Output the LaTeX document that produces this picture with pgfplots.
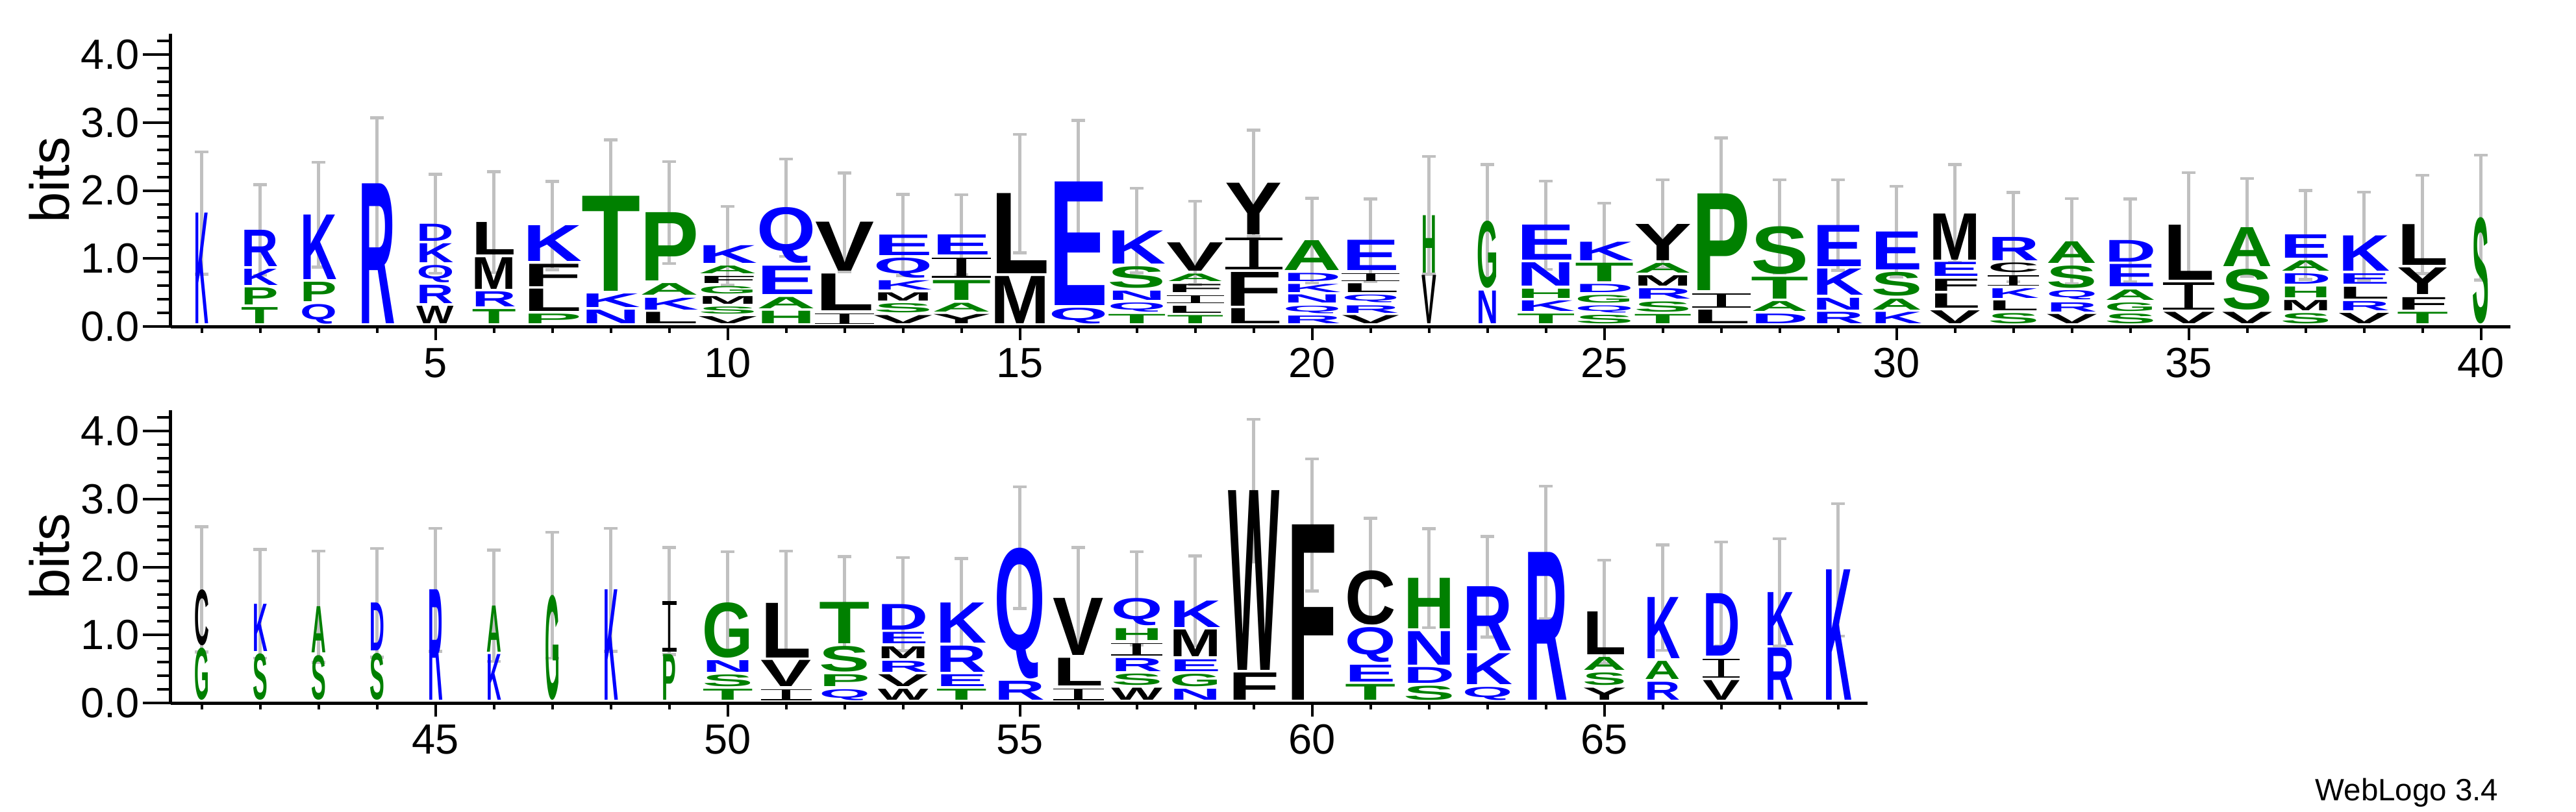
\documentclass[border=0pt]{standalone}
\usepackage{fontspec}
\setmainfont{Liberation Sans}
\usepackage{graphicx}
\usepackage{xcolor}
\usepackage{pgfplots}
\usepackage{pgfplotstable}
\pgfplotsset{compat=1.18}

\definecolor{wblue}{RGB}{0,0,255}
\definecolor{wgreen}{RGB}{0,128,0}
\definecolor{ebgray}{RGB}{192,192,192}
% hydrophobicity colour scheme
\colorlet{lcR}{wblue}\colorlet{lcK}{wblue}\colorlet{lcD}{wblue}
\colorlet{lcE}{wblue}\colorlet{lcN}{wblue}\colorlet{lcQ}{wblue}
\colorlet{lcS}{wgreen}\colorlet{lcG}{wgreen}\colorlet{lcH}{wgreen}
\colorlet{lcT}{wgreen}\colorlet{lcA}{wgreen}\colorlet{lcP}{wgreen}
\colorlet{lcY}{black}\colorlet{lcV}{black}\colorlet{lcM}{black}
\colorlet{lcC}{black}\colorlet{lcL}{black}\colorlet{lcF}{black}
\colorlet{lcI}{black}\colorlet{lcW}{black}

% serif I as in WebLogo
\newcommand\glyphI{\vbox{\hrule width 10pt height 0.8pt depth 0pt
  \hbox to 10pt{\hss\vrule width 1.6pt height 8.4pt depth 0pt\hss}%
  \hrule width 10pt height 0.8pt depth 0pt}}
\def\letI{I}
\newlength\glh \newlength\glw
% #1 letter, #2 box height (bits), #3 stack width (positions)
\newcommand\logoglyph[3]{%
  \begingroup
  \pgfmathsetlength\glh{max(0.02,#2-0.04)*20.94pt}%
  \pgfmathsetlength\glw{#3*19.8pt}%
  \edef\cur{#1}%
  \ifx\cur\letI \def\gly{\glyphI}\else\def\gly{\textbf{\cur}}\fi
  \textcolor{lc\cur}{\resizebox*{\glw}{\glh}{\gly}}%
  \endgroup}

% letters: x, bottom, top (bits), stack width (positions), letter
\pgfplotstableread[row sep=\\]{
x lo hi w l\\
1 0 1.668 .22 K\\
2 0 .278 .58 T\\ 2 .278 .569 .58 P\\ 2 .569 .847 .58 K\\ 2 .847 1.422 .58 R\\
3 0 .329 .57 Q\\ 3 .329 .655 .57 P\\ 3 .655 1.645 .57 K\\
4 0 2.099 .57 R\\
5 0 .297 .58 W\\ 5 .297 .607 .58 R\\ 5 .607 .901 .58 Q\\ 5 .901 1.220 .58 K\\ 5 1.220 1.511 .58 D\\
6 0 .249 .69 T\\ 6 .249 .511 .69 R\\ 6 .511 1.016 .69 M\\ 6 1.016 1.534 .69 L\\
7 0 .182 .92 P\\ 7 .182 .55 .92 L\\ 7 .55 .92 .92 F\\ 7 .92 1.486 .92 K\\
8 0 .24 .92 N\\ 8 .24 .479 .92 K\\ 8 .479 1.917 .92 T\\
9 0 .208 .92 L\\ 9 .208 .422 .92 K\\ 9 .422 .633 .92 A\\ 9 .633 1.677 .92 P\\
10 0 .144 .92 V\\ 10 .144 .288 .92 S\\ 10 .288 .441 .92 M\\ 10 .441 .591 .92 G\\ 10 .591 .735 .92 F\\ 10 .735 .888 .92 A\\ 10 .888 1.188 .92 K\\
11 0 .224 .92 H\\ 11 .224 .431 .92 A\\ 11 .431 .888 .92 E\\ 11 .888 1.748 .92 Q\\
12 0 .192 .92 I\\ 12 .192 .773 .92 L\\ 12 .773 1.534 .92 V\\
13 0 .16 .92 V\\ 13 .16 .335 .92 S\\ 13 .335 .495 .92 M\\ 13 .495 .671 .92 K\\ 13 .671 1.006 .92 Q\\ 13 1.006 1.348 .92 E\\
14 0 .176 .92 Y\\ 14 .176 .345 .92 A\\ 14 .345 .677 .92 T\\ 14 .677 1.013 .92 I\\ 14 1.013 1.348 .92 E\\
15 0 .735 .92 M\\ 15 .735 1.955 .92 L\\
16 0 .272 .92 Q\\ 16 .272 2.131 .92 E\\
17 0 .176 .91 T\\ 17 .176 .351 .91 Q\\ 17 .351 .527 .91 N\\ 17 .527 .885 .91 S\\ 17 .885 1.412 .91 K\\
18 0 .16 .89 T\\ 18 .16 .304 .89 L\\ 18 .304 .463 .89 I\\ 18 .463 .623 .89 F\\ 18 .623 .773 .89 A\\ 18 .773 1.23 .89 V\\
19 0 .262 .89 L\\ 19 .262 .799 .89 F\\ 19 .799 1.31 .89 I\\ 19 1.31 2.109 .89 Y\\
20 0 .153 .91 R\\ 20 .153 .304 .91 Q\\ 20 .304 .463 .91 N\\ 20 .463 .623 .91 K\\ 20 .623 .783 .91 D\\ 20 .783 1.262 .91 A\\
21 0 .16 .90 V\\ 21 .16 .31 .90 R\\ 21 .31 .463 .90 Q\\ 21 .463 .633 .90 L\\ 21 .633 .783 .90 I\\ 21 .783 1.268 .90 E\\
22 0 .751 .23 V\\ 22 .751 1.636 .23 H\\
23 0 .521 .33 N\\ 23 .521 1.55 .33 G\\
24 0 .182 .91 T\\ 24 .182 .377 .91 K\\ 24 .377 .553 .91 H\\ 24 .553 .936 .91 N\\ 24 .936 1.492 .91 E\\
25 0 .166 .92 S\\ 25 .166 .31 .92 Q\\ 25 .31 .463 .92 G\\ 25 .463 .623 .92 D\\ 25 .623 .933 .92 T\\ 25 .933 1.246 .92 K\\
26 0 .176 .90 T\\ 26 .176 .367 .90 S\\ 26 .367 .559 .90 R\\ 26 .559 .751 .90 M\\ 26 .751 .933 .90 A\\ 26 .933 1.508 .90 Y\\
27 0 .24 .91 L\\ 27 .24 .486 .91 I\\ 27 .486 1.949 .91 P\\
28 0 .182 .90 D\\ 28 .182 .367 .90 A\\ 28 .367 .728 .90 T\\ 28 .728 1.47 .90 S\\
29 0 .208 .80 R\\ 29 .208 .422 .80 N\\ 29 .422 .847 .80 K\\ 29 .847 1.492 .80 E\\
30 0 .208 .80 K\\ 30 .208 .409 .80 A\\ 30 .409 .799 .80 S\\ 30 .799 1.396 .80 E\\
31 0 .23 .79 V\\ 31 .23 .479 .79 L\\ 31 .479 .696 .79 F\\ 31 .696 .942 .79 E\\ 31 .942 1.661 .79 M\\
32 0 .192 .80 S\\ 32 .192 .377 .80 L\\ 32 .377 .559 .80 K\\ 32 .559 .751 .80 I\\ 32 .751 .933 .80 C\\ 32 .933 1.316 .80 R\\
33 0 .176 .79 V\\ 33 .176 .351 .79 R\\ 33 .351 .527 .79 Q\\ 33 .527 .895 .79 S\\ 33 .895 1.252 .79 A\\
34 0 .185 .80 S\\ 34 .185 .351 .80 G\\ 34 .351 .543 .80 A\\ 34 .543 .911 .80 E\\ 34 .911 1.268 .80 D\\
35 0 .208 .80 V\\ 35 .208 .645 .80 I\\ 35 .645 1.495 .80 L\\
36 0 .208 .79 V\\ 36 .208 .847 .79 S\\ 36 .847 1.46 .79 A\\
37 0 .192 .79 S\\ 37 .192 .383 .79 M\\ 37 .383 .581 .79 H\\ 37 .581 .773 .79 D\\ 37 .773 .965 .79 A\\ 37 .965 1.348 .79 E\\
38 0 .192 .80 V\\ 38 .192 .367 .80 R\\ 38 .367 .581 .80 L\\ 38 .581 .773 .80 E\\ 38 .773 1.332 .80 K\\
39 0 .208 .80 T\\ 39 .208 .431 .80 F\\ 39 .431 .863 .80 Y\\ 39 .863 1.502 .80 L\\
40 0 1.604 .26 S\\
}\toprow

\pgfplotstableread[row sep=\\]{
x lo hi w l\\
41 0 .808 .23 G\\ 41 .808 1.671 .23 C\\
42 0 .722 .23 S\\ 42 .722 1.457 .23 K\\
43 0 .696 .23 S\\ 43 .696 1.415 .23 A\\
44 0 .728 .23 S\\ 44 .728 1.473 .23 D\\
45 0 1.665 .23 R\\
46 0 .712 .23 K\\ 46 .712 1.431 .23 A\\
47 0 1.585 .23 G\\
48 0 1.665 .23 K\\
49 0 .712 .22 P\\ 49 .712 1.502 .22 I\\
50 0 .201 .79 T\\ 50 .201 .415 .79 S\\ 50 .415 .626 .79 N\\ 50 .626 1.479 .79 G\\
51 0 .201 .79 I\\ 51 .201 .626 .79 V\\ 51 .626 1.47 .79 L\\
52 0 .201 .79 Q\\ 52 .201 .415 .79 P\\ 52 .415 .831 .79 S\\ 52 .831 1.479 .79 T\\
53 0 .201 .79 W\\ 53 .201 .415 .79 V\\ 53 .415 .617 .79 R\\ 53 .617 .831 .79 M\\ 53 .831 1.038 .79 E\\ 53 1.038 1.454 .79 D\\
54 0 .201 .79 T\\ 54 .201 .415 .79 E\\ 54 .415 .840 .79 R\\ 54 .840 1.47 .79 K\\
55 0 .319 .79 R\\ 55 .319 2.284 .79 Q\\
56 0 .211 .79 I\\ 56 .211 .658 .79 L\\ 56 .658 1.537 .79 V\\
57 0 .217 .80 W\\ 57 .217 .425 .80 S\\ 57 .425 .658 .80 R\\ 57 .658 .882 .80 I\\ 57 .882 1.096 .80 H\\ 57 1.096 1.537 .80 Q\\
58 0 .201 .80 N\\ 58 .201 .425 .80 G\\ 58 .425 .639 .80 E\\ 58 .639 1.073 .80 M\\ 58 1.073 1.502 .80 K\\
59 0 .441 .80 F\\ 59 .441 3.125 .80 W\\
60 0 2.62 .79 F\\
61 0 .272 .79 T\\ 61 .272 .559 .79 E\\ 61 .559 1.112 .79 Q\\ 61 1.112 1.949 .79 C\\
62 0 .249 .80 S\\ 62 .249 .521 .80 D\\ 62 .521 1.054 .80 N\\ 62 1.054 1.837 .80 H\\
63 0 .233 .78 Q\\ 63 .233 .728 .78 K\\ 63 .728 1.712 .78 R\\
64 0 2.214 .68 R\\
65 0 .217 .68 Y\\ 65 .217 .441 .68 S\\ 65 .441 .671 .68 A\\ 65 .671 1.342 .68 L\\
66 0 .304 .56 R\\ 66 .304 .61 .56 A\\ 66 .61 1.55 .56 K\\
67 0 .329 .58 V\\ 67 .329 .649 .58 I\\ 67 .649 1.607 .58 D\\
68 0 .808 .45 R\\ 68 .808 1.629 .45 K\\
69 0 1.958 .44 K\\
}\botrow

% stack heights and error bar half-lengths
\pgfplotstableread[row sep=\\]{
x t e\\
1 1.668 .90\\ 2 1.422 .666\\ 3 1.645 .77\\ 4 2.099 .97\\ 5 1.511 .728\\
6 1.534 .743\\ 7 1.486 .65\\ 8 1.917 .827\\ 9 1.677 .75\\ 10 1.188 .58\\
11 1.748 .714\\ 12 1.534 .725\\ 13 1.348 .596\\ 14 1.348 .59\\ 15 1.955 .87\\
16 2.131 .90\\ 17 1.412 .623\\ 18 1.23 .615\\ 19 2.109 .78\\ 20 1.262 .623\\
21 1.268 .61\\ 22 1.636 .866\\ 23 1.55 .834\\ 24 1.492 .65\\ 25 1.246 .567\\
26 1.508 .65\\ 27 1.949 .826\\ 28 1.47 .687\\ 29 1.492 .666\\ 30 1.396 .666\\
31 1.661 .72\\ 32 1.316 .655\\ 33 1.252 .628\\ 34 1.268 .61\\ 35 1.495 .767\\
36 1.46 .72\\ 37 1.348 .655\\ 38 1.332 .647\\ 39 1.502 .724\\ 40 1.604 .92\\
}\toperr

\pgfplotstableread[row sep=\\]{
x t e\\
41 1.671 .92\\ 42 1.457 .80\\ 43 1.415 .82\\ 44 1.473 .80\\ 45 1.665 .906\\
46 1.431 .82\\ 47 1.585 .927\\ 48 1.665 .906\\ 49 1.502 .788\\ 50 1.479 .746\\
51 1.47 .765\\ 52 1.479 .674\\ 53 1.454 .687\\ 54 1.47 .655\\ 55 2.284 .895\\
56 1.537 .75\\ 57 1.537 .687\\ 58 1.502 .66\\ 59 3.125 1.05\\ 60 2.62 .97\\
61 1.949 .767\\ 62 1.837 .73\\ 63 1.712 .74\\ 64 2.214 .975\\ 65 1.342 .76\\
66 1.55 .775\\ 67 1.607 .764\\ 68 1.629 .79\\ 69 1.958 .975\\
}\boterr

\pgfplotsset{
  logo/.style={
    x=18pt, y=20.94pt, ymin=0, ymax=4.31, clip=false,
    axis x line*=bottom, axis y line*=left,
    axis line style={line width=1pt},
    tick align=outside,
    major tick length=8.5pt, minor tick length=4.2pt,
    xtick style={/pgfplots/major tick length=4.2pt, /pgfplots/minor tick length=2pt},
    every tick/.style={black, line width=0.8pt},
    ytick={0,1,2,3,4}, minor ytick={0.2,0.4,...,4.2},
    tick label style={font=\fontsize{13}{15}\selectfont},
    /pgf/number format/assume math mode=true,
    xticklabel style={inner sep=0pt, yshift=2pt},
    yticklabel style={inner sep=0pt, xshift=-1pt,
      /pgf/number format/.cd, fixed, fixed zerofill, precision=1},
    ylabel={bits},
    ylabel style={font=\fontsize{17}{20}\selectfont, anchor=center},
  },
  letters/.style={
    draw=none, mark=none, point meta=explicit symbolic,
    visualization depends on={\thisrow{hi}-\thisrow{lo} \as \vh},
    visualization depends on={\thisrow{w} \as \vw},
    nodes near coords={\logoglyph{\pgfplotspointmeta}{\vh}{\vw}},
    every node near coord/.append style={anchor=south, inner sep=0pt, outer sep=0pt, yshift=0.84pt},
  },
  errs/.style={
    draw=none, mark=none,
    error bars/.cd, y dir=both, y explicit,
    error bar style={draw=ebgray, line width=1.1pt},
    error mark options={draw=ebgray, rotate=90, mark size=2.1pt, line width=0.9pt},
  },
}

\begin{document}
\begin{tikzpicture}
\useasboundingbox (-52.6pt,-149.4pt) rectangle (740.8pt,100.6pt);
\begin{axis}[logo, at={(0,0)}, anchor=south west,
    xmin=0.47, xmax=40.5,
    xtick={5,10,...,40}, minor xtick={1,...,40},
    ylabel style={at={(axis description cs:-0.0519,0.5)}}]
\addplot[letters] table[x=x, y=lo, meta=l]{\toprow};
\addplot[errs] table[x=x, y=t, y error=e]{\toperr};
\end{axis}
\begin{axis}[logo, at={(0,-116pt)}, anchor=south west,
    xmin=40.47, xmax=69.5,
    xtick={45,50,...,65}, minor xtick={41,...,69},
    ylabel style={at={(axis description cs:-0.0716,0.5)}}]
\addplot[letters] table[x=x, y=lo, meta=l]{\botrow};
\addplot[errs] table[x=x, y=t, y error=e]{\boterr};
\end{axis}
\node[anchor=base east, font=\fontsize{9.5}{11}\selectfont] at (720.4pt,-146pt) {WebLogo 3.4};
\end{tikzpicture}
\end{document}
